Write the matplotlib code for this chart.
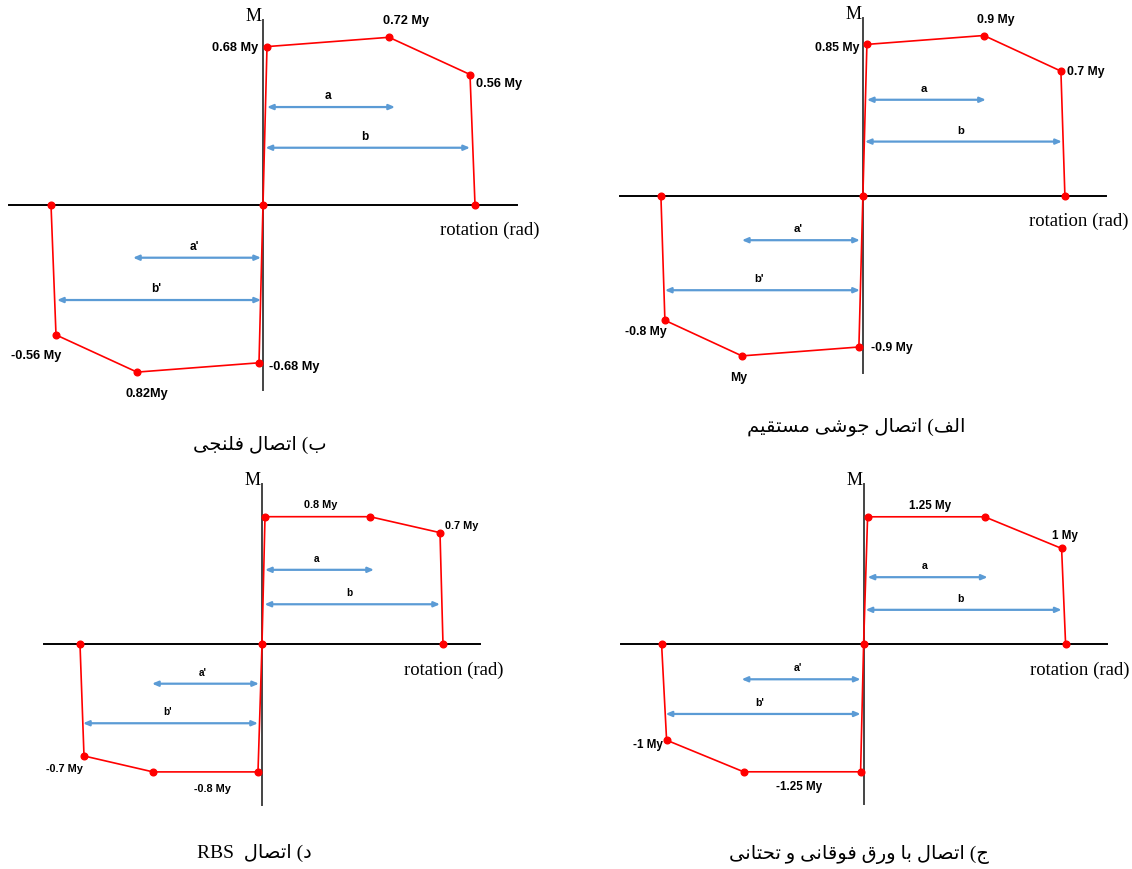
import re
import matplotlib
matplotlib.use('Agg')
import matplotlib.pyplot as plt

# ---- data (rotation in arbitrary units, moment in My) ----
# point order: neg end, neg degrade, neg peak, neg yield, origin, yield, peak, degrade, end
flange_rot = [-2.12, -2.07, -1.26, -0.04, 0.0, 0.04, 1.26, 2.07, 2.12]
flange_mom = [0.0, -0.56, -0.72, -0.68, 0.0, 0.68, 0.72, 0.56, 0.0]
flange_lab = [None, '-0.56 My', '0.82My', '-0.68 My', None, '0.68 My', '0.72 My', '0.56 My', None]

weld_rot = [-2.02, -1.98, -1.21, -0.04, 0.0, 0.04, 1.21, 1.98, 2.02]
weld_mom = [0.0, -0.70, -0.90, -0.85, 0.0, 0.85, 0.90, 0.70, 0.0]
weld_lab = [None, '-0.8 My', 'My', '-0.9 My', None, '0.85 My', '0.9 My', '0.7 My', None]

rbs_rot = [-1.82, -1.78, -1.09, -0.04, 0.0, 0.03, 1.08, 1.78, 1.81]
rbs_mom = [0.0, -0.70, -0.80, -0.80, 0.0, 0.80, 0.80, 0.70, 0.0]
rbs_lab = [None, '-0.7 My', '-0.8 My', None, None, None, '0.8 My', '0.7 My', None]

plate_rot = [-2.02, -1.97, -1.20, -0.03, 0.0, 0.04, 1.21, 1.98, 2.02]
plate_mom = [0.0, -0.94, -1.25, -1.25, 0.0, 1.25, 1.25, 0.94, 0.0]
plate_lab = [None, '-1 My', '-1.25 My', None, None, None, '1.25 My', '1 My', None]

arrow_names = ['a', 'b', "a'", "b'"]
flange_arr_start = [0.04, 0.025, -1.30, -2.06]
flange_arr_end = [1.32, 2.07, -0.02, -0.02]
flange_arr_lvl = [0.42, 0.245, -0.228, -0.41]

weld_arr_start = [0.04, 0.02, -1.21, -1.98]
weld_arr_end = [1.23, 1.99, -0.03, -0.03]
weld_arr_lvl = [0.539, 0.304, -0.25, -0.531]

rbs_arr_start = [0.03, 0.025, -1.10, -1.79]
rbs_arr_end = [1.12, 1.78, -0.03, -0.04]
rbs_arr_lvl = [0.467, 0.251, -0.247, -0.495]

plate_arr_start = [0.04, 0.02, -1.22, -1.98]
plate_arr_end = [1.24, 1.98, -0.03, -0.03]
plate_arr_lvl = [0.658, 0.338, -0.343, -0.683]

captions = ['ب) اتصال فلنجی', 'الف) اتصال جوشی مستقیم',
            'د) اتصال  RBS', 'ج) اتصال با ورق فوقانی و تحتانی']

# ---- minimal arabic shaping (matplotlib has no bidi / joining) ----
FORMS = {
    'ا': ('\uFE8D', '\uFE8E', None, None),
    'ب': ('\uFE8F', '\uFE90', '\uFE91', '\uFE92'),
    'ت': ('\uFE95', '\uFE96', '\uFE97', '\uFE98'),
    'ج': ('\uFE9D', '\uFE9E', '\uFE9F', '\uFEA0'),
    'ح': ('\uFEA1', '\uFEA2', '\uFEA3', '\uFEA4'),
    'د': ('\uFEA9', '\uFEAA', None, None),
    'ر': ('\uFEAD', '\uFEAE', None, None),
    'س': ('\uFEB1', '\uFEB2', '\uFEB3', '\uFEB4'),
    'ش': ('\uFEB5', '\uFEB6', '\uFEB7', '\uFEB8'),
    'ص': ('\uFEB9', '\uFEBA', '\uFEBB', '\uFEBC'),
    'ف': ('\uFED1', '\uFED2', '\uFED3', '\uFED4'),
    'ق': ('\uFED5', '\uFED6', '\uFED7', '\uFED8'),
    'ل': ('\uFEDD', '\uFEDE', '\uFEDF', '\uFEE0'),
    'م': ('\uFEE1', '\uFEE2', '\uFEE3', '\uFEE4'),
    'ن': ('\uFEE5', '\uFEE6', '\uFEE7', '\uFEE8'),
    'و': ('\uFEED', '\uFEEE', None, None),
    'ی': ('\uFEEF', '\uFEF0', '\uFEF3', '\uFEF4'),
}


def shape(text):
    out = []
    for i, ch in enumerate(text):
        if ch not in FORMS:
            out.append(ch)
            continue
        prev = text[i - 1] if i > 0 else ''
        nxt = text[i + 1] if i + 1 < len(text) else ''
        jp = prev in FORMS and FORMS[prev][2] is not None
        jn = nxt in FORMS and FORMS[ch][2] is not None
        iso, fin, ini, med = FORMS[ch]
        if jp and jn:
            out.append(med)
        elif jp:
            out.append(fin)
        elif jn:
            out.append(ini)
        else:
            out.append(iso)
    return ''.join(out)


def rtl(text):
    runs = re.findall(r'[A-Za-z0-9]+|[^A-Za-z0-9]+', shape(text))
    vis = []
    for r in reversed(runs):
        if re.match(r'[A-Za-z0-9]', r):
            vis.append(r)
        else:
            vis.append(r[::-1].translate(str.maketrans('()', ')(')))
    return ''.join(vis)


# ---- layout ----
W, H = 1132, 870
fig = plt.figure(figsize=(W / 100, H / 100), dpi=100)

panels = [
    dict(rot=flange_rot, mom=flange_mom, lab=flange_lab,
         arr=(flange_arr_start, flange_arr_end, flange_arr_lvl),
         origin=(263, 205.7), sy=232.5, xext=2.54, yext=0.796, fs=9.2, afs=8.5,
         offs={1: (-20, -20, 'center'), 2: (10, -21, 'center'), 3: (10, -3, 'left'),
               5: (-9, 0, 'right'), 6: (17, 17, 'center'), 7: (6, -9, 'left')},
         cap=(260, 445)),
    dict(rot=weld_rot, mom=weld_mom, lab=weld_lab,
         arr=(weld_arr_start, weld_arr_end, weld_arr_lvl),
         origin=(862.9, 196.7), sy=178, xext=2.43, yext=0.997, fs=8.8, afs=8.2,
         offs={1: (-19, -11, 'center'), 2: (-3, -21, 'center'), 3: (12, 0, 'left'),
               5: (-7, -3, 'right'), 6: (12, 16, 'center'), 7: (6, 0, 'left')},
         cap=(856, 427)),
    dict(rot=rbs_rot, mom=rbs_mom, lab=rbs_lab,
         arr=(rbs_arr_start, rbs_arr_end, rbs_arr_lvl),
         origin=(262, 645.3), sy=159.5, xext=2.18, yext=1.005, fs=7.8, afs=7.2,
         offs={1: (-20, -12, 'center'), 2: (59, -16, 'center'),
               6: (-49, 13, 'center'), 7: (5, 8, 'left')},
         cap=(254, 853)),
    dict(rot=plate_rot, mom=plate_mom, lab=plate_lab,
         arr=(plate_arr_start, plate_arr_end, plate_arr_lvl),
         origin=(863.6, 645.3), sy=102, xext=2.43, yext=1.57, fs=8.4, afs=7.6,
         offs={1: (-19, -4, 'center'), 2: (55, -14, 'center'),
               6: (-55, 12, 'center'), 7: (3, 13, 'center')},
         cap=(859, 855)),
]

bw, bh = 280, 215  # half box size of each panel in pixels
for i, p in enumerate(panels):
    ox, oy = p['origin']
    ax = fig.add_axes([(ox - bw) / W, (H - oy - bh) / H, 2 * bw / W, 2 * bh / H])
    ax.set_xlim(-bw / 100, bw / 100)
    ax.set_ylim(-bh / p['sy'], bh / p['sy'])
    ax.patch.set_visible(False)
    ax.set_xticks([])
    ax.set_yticks([])
    ax.spines[['top', 'right']].set_visible(False)
    ax.spines['bottom'].set_position(('data', 0))
    ax.spines['bottom'].set_bounds(-p['xext'], p['xext'])
    ax.spines['bottom'].set_color('black')
    ax.spines['bottom'].set_linewidth(1.4)
    ax.spines['left'].set_position(('data', 0))
    ax.spines['left'].set_bounds(-p['yext'], p['yext'])
    ax.spines['left'].set_color('#444444')
    ax.spines['left'].set_linewidth(1.4)

    ax.plot(p['rot'], p['mom'], color='#ff0000', lw=1.2, marker='o', ms=4.8,
            zorder=4, clip_on=False)

    for j, txt in enumerate(p['lab']):
        if txt is None:
            continue
        dx, dy, ha = p['offs'][j]
        ax.annotate(txt, (p['rot'][j], p['mom'][j]), xytext=(dx, dy),
                    textcoords='offset pixels', ha=ha, va='center',
                    family='Liberation Sans', weight='bold', size=p['fs'])

    starts, ends, lvls = p['arr']
    for name, s, e, lv in zip(arrow_names, starts, ends, lvls):
        ax.annotate('', xy=(e, lv), xytext=(s, lv),
                    arrowprops=dict(arrowstyle='<|-|>,head_length=0.35,head_width=0.15',
                                    color='#5b9bd5', lw=1.6, shrinkA=0, shrinkB=0))
        ax.annotate(name, ((s + e) / 2, lv), xytext=(-3, 12), textcoords='offset pixels',
                    ha='center', va='center', family='Liberation Sans',
                    weight='bold', size=p['afs'])

    ax.annotate('M', (0, p['yext']), xytext=(-1, 0), textcoords='offset pixels',
                ha='right', va='baseline', family='Liberation Serif', size=13)
    ax.annotate('rotation (rad)', (p['xext'], 0), xytext=(23, -25),
                textcoords='offset pixels', ha='right', va='center',
                family='Liberation Serif', size=13.5)

    cx, cy = p['cap']
    fig.text(cx / W, 1 - cy / H, rtl(captions[i]), ha='center', va='center',
             size=14, family=['Liberation Serif', 'DejaVu Sans'])

fig.savefig('out.png', dpi=100, facecolor='white')
